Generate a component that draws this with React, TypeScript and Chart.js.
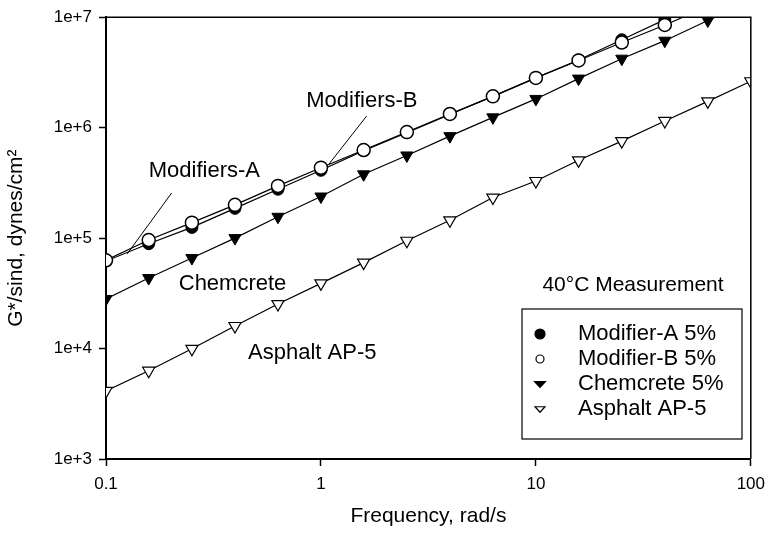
import { useEffect, useRef } from 'react';
import { Chart, registerables } from 'chart.js';

Chart.register(...registerables);

// Frequency, rad/s
const frequencies = [0.1, 0.158, 0.251, 0.398, 0.631, 1, 1.58, 2.51, 3.98, 6.31, 10, 15.8, 25.1, 39.8, 63.1, 100];

// G*/sin(delta), dynes/cm^2
const modifierA = [6.2e4, 8.9e4, 1.25e5, 1.86e5, 2.77e5, 4.11e5, 6.2e5, 9.0e5, 1.32e6, 1.92e6, 2.82e6, 4.1e6, 6.25e6, 9.5e6, 1.4e7];
const modifierB = [6.3e4, 9.6e4, 1.38e5, 2.0e5, 2.97e5, 4.34e5, 6.27e5, 9.12e5, 1.33e6, 1.92e6, 2.82e6, 4.06e6, 5.9e6, 8.5e6, 1.25e7];
const chemcrete = [2.81e4, 4.35e4, 6.6e4, 1.0e5, 1.56e5, 2.38e5, 3.78e5, 5.6e5, 8.38e5, 1.24e6, 1.82e6, 2.78e6, 4.21e6, 6.13e6, 9.33e6, 1.4e7];
const asphalt = [4.13e3, 6.3e3, 9.95e3, 1.6e4, 2.53e4, 3.89e4, 6.0e4, 9.46e4, 1.45e5, 2.33e5, 3.29e5, 5.06e5, 7.55e5, 1.15e6, 1.73e6, 2.63e6];

const seriesNames = ['Modifier-A 5%', 'Modifier-B 5%', 'Chemcrete 5%', 'Asphalt AP-5'];

const xTickValues = [0.1, 1, 10, 100];
const xTickLabels = ['0.1', '1', '10', '100'];
const yTickValues = [1e3, 1e4, 1e5, 1e6, 1e7];
const yTickLabels = ['1e+3', '1e+4', '1e+5', '1e+6', '1e+7'];

const FONT = "'Liberation Sans', Arial, Helvetica, sans-serif";

export default function App() {
  const ref = useRef<HTMLCanvasElement>(null);

  useEffect(() => {
    const canvas = ref.current;
    if (!canvas) return;
    const pts = (ys: number[]) => ys.map((y, i) => ({ x: frequencies[i], y }));

    const drawMarker = (ctx: CanvasRenderingContext2D, kind: string, cx: number, cy: number, r: number, filled: boolean) => {
      ctx.beginPath();
      if (kind === 'circle') {
        ctx.arc(cx, cy, r, 0, Math.PI * 2);
      } else {
        const h = r * 0.9;
        ctx.moveTo(cx - r, cy - h / 2);
        ctx.lineTo(cx + r, cy - h / 2);
        ctx.lineTo(cx, cy + h / 2 + 1);
        ctx.closePath();
      }
      ctx.fillStyle = filled ? '#000' : '#fff';
      ctx.fill();
      ctx.lineWidth = 1.2;
      ctx.strokeStyle = '#000';
      ctx.stroke();
    };

    const overlay = {
      id: 'overlay',
      afterDraw(chart: any) {
        const { ctx, chartArea: a, scales } = chart;
        const sx = scales.x, sy = scales.y;
        ctx.save();
        // plot frame (top and right)
        ctx.strokeStyle = '#000';
        ctx.lineWidth = 1.5;
        ctx.beginPath();
        ctx.moveTo(a.left, a.top);
        ctx.lineTo(a.right, a.top);
        ctx.lineTo(a.right, a.bottom);
        ctx.stroke();

        // annotations (data-space anchors)
        ctx.fillStyle = '#000';
        ctx.font = `22px ${FONT}`;
        ctx.textBaseline = 'middle';
        const labels = [
          { t: 'Modifiers-A', x: 0.287, y: 4.05e5, al: 'center' },
          { t: 'Modifiers-B', x: 1.55, y: 1.73e6, al: 'center' },
          { t: 'Chemcrete', x: 0.218, y: 3.87e4, al: 'left' },
          { t: 'Asphalt AP-5', x: 0.458, y: 9.04e3, al: 'left' },
        ];
        labels.forEach((l) => {
          ctx.textAlign = l.al;
          ctx.fillText(l.t, sx.getPixelForValue(l.x), sy.getPixelForValue(l.y));
        });
        const leaders = [
          [0.202, 2.56e5, 0.1256, 7.2e4],
          [1.63, 1.27e6, 1.09, 4.68e5],
        ];
        ctx.lineWidth = 1;
        leaders.forEach(([x1, y1, x2, y2]) => {
          ctx.beginPath();
          ctx.moveTo(sx.getPixelForValue(x1), sy.getPixelForValue(y1));
          ctx.lineTo(sx.getPixelForValue(x2), sy.getPixelForValue(y2));
          ctx.stroke();
        });

        // legend
        ctx.font = `21px ${FONT}`;
        ctx.textAlign = 'center';
        ctx.fillText('40\u00B0C Measurement', 633, 285);
        ctx.lineWidth = 1.2;
        ctx.strokeRect(522, 309, 220, 130);
        const kinds = [
          ['circle', true, 5],
          ['circle', false, 4],
          ['tri', true, 5.5],
          ['tri', false, 5],
        ] as const;
        ctx.font = `22px ${FONT}`;
        seriesNames.forEach((name, i) => {
          const yy = 334 + i * 25;
          const [k, f, r] = kinds[i];
          drawMarker(ctx, k, 540, yy, r, f);
          ctx.fillStyle = '#000';
          ctx.textAlign = 'left';
          ctx.textBaseline = 'middle';
          ctx.fillText(name, 578, yy);
        });
        ctx.restore();
      },
    };

    const chart = new Chart(canvas, {
      type: 'line',
      data: {
        datasets: [
          {
            label: seriesNames[0],
            data: pts(modifierA),
            order: 1,
            borderColor: '#000',
            borderWidth: 1.2,
            pointStyle: 'circle',
            pointRadius: 6,
            pointBackgroundColor: '#000',
            pointBorderColor: '#000',
            pointBorderWidth: 1,
          },
          {
            label: seriesNames[1],
            data: pts(modifierB),
            order: 0,
            borderColor: '#000',
            borderWidth: 1.2,
            pointStyle: 'circle',
            pointRadius: 6.5,
            pointBackgroundColor: '#fff',
            pointBorderColor: '#000',
            pointBorderWidth: 1.5,
          },
          {
            label: seriesNames[2],
            data: pts(chemcrete),
            order: 2,
            borderColor: '#000',
            borderWidth: 1.2,
            pointStyle: 'triangle',
            rotation: 180,
            pointRadius: 7,
            pointBackgroundColor: '#000',
            pointBorderColor: '#000',
            pointBorderWidth: 1,
          },
          {
            label: seriesNames[3],
            data: pts(asphalt),
            order: 3,
            borderColor: '#000',
            borderWidth: 1.2,
            pointStyle: 'triangle',
            rotation: 180,
            pointRadius: 7,
            pointBackgroundColor: '#fff',
            pointBorderColor: '#000',
            pointBorderWidth: 1.2,
          },
        ] as any,
      },
      options: {
        animation: false,
        responsive: false,
        devicePixelRatio: 1,
        layout: { padding: { left: 0, right: 15, top: 16, bottom: 0 } },
        plugins: { legend: { display: false }, tooltip: { enabled: false } },
        elements: { line: { tension: 0 } },
        scales: {
          x: {
            type: 'logarithmic',
            min: 0.1,
            max: 100,
            afterBuildTicks: (s: any) => {
              s.ticks = xTickValues.map((v) => ({ value: v }));
            },
            afterFit: (s: any) => {
              s.height = 74;
            },
            ticks: {
              autoSkip: false,
              maxRotation: 0,
              padding: 8,
              color: '#000',
              font: { family: FONT, size: 17 },
              callback: (_v: any, i: number) => xTickLabels[i],
            },
            grid: { drawOnChartArea: false, drawTicks: true, tickLength: 7, tickWidth: 1.5, tickColor: '#000' },
            border: { display: true, color: '#000', width: 2 },
            title: {
              display: true,
              text: 'Frequency, rad/s',
              color: '#000',
              font: { family: FONT, size: 21 },
              padding: { top: 4, bottom: 4 },
            },
          },
          y: {
            type: 'logarithmic',
            min: 1e3,
            max: 1e7,
            afterBuildTicks: (s: any) => {
              s.ticks = yTickValues.map((v) => ({ value: v }));
            },
            afterFit: (s: any) => {
              s.width = 106;
            },
            ticks: {
              autoSkip: false,
              padding: 7,
              color: '#000',
              font: { family: FONT, size: 17 },
              callback: (_v: any, i: number) => yTickLabels[i],
            },
            grid: { drawOnChartArea: false, drawTicks: true, tickLength: 7, tickWidth: 1.5, tickColor: '#000' },
            border: { display: true, color: '#000', width: 2 },
            title: {
              display: true,
              text: 'G*/sind, dynes/cm\u00B2',
              color: '#000',
              font: { family: FONT, size: 21 },
              padding: { top: 4, bottom: 4 },
            },
          },
        },
      } as any,
      plugins: [overlay],
    });
    return () => chart.destroy();
  }, []);

  return (
    <div style={{ position: 'fixed', left: 0, top: 0, width: 773, height: 533, background: '#fff' }}>
      <canvas ref={ref} width={773} height={533} style={{ width: 773, height: 533, display: 'block' }} />
    </div>
  );
}
